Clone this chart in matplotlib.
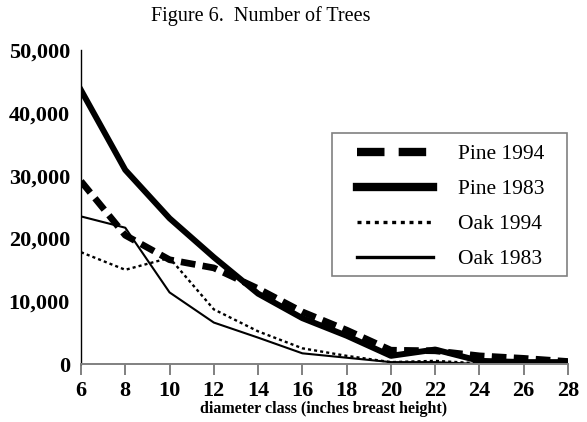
import matplotlib
matplotlib.use("Agg")
import matplotlib.pyplot as plt
from matplotlib.ticker import FuncFormatter
from matplotlib.lines import Line2D
from matplotlib.patches import Rectangle

diameter = [6, 8, 10, 12, 14, 16, 18, 20, 22, 24, 26, 28]
pine_1994 = [29100, 20500, 16600, 15300, 12000, 8300, 5400, 2200, 2100, 1300, 900, 400]
pine_1983 = [43600, 30900, 23200, 17000, 11200, 7300, 4500, 1300, 2300, 500, 300, 300]
oak_1994 = [17800, 15000, 16900, 8700, 5200, 2500, 1300, 300, 500, 100, 100, 100]
oak_1983 = [23500, 21700, 11400, 6600, 4200, 1700, 1000, 300, 300, 0, 0, 0]
series_labels = ["Pine 1994", "Pine 1983", "Oak 1994", "Oak 1983"]
y_ticks = [0, 10000, 20000, 30000, 40000, 50000]

plt.rcParams['font.family'] = ['Liberation Serif', 'DejaVu Serif']

W, H = 587, 422
fig = plt.figure(figsize=(W/100, H/100), dpi=100)
ax = fig.add_axes([81/W, 1-364/H, 487/W, 314/H])

ax.plot(diameter, pine_1994, color='black', lw=4.8, dashes=(2.2, 1.1),
        dash_capstyle='butt', solid_joinstyle='miter')
ax.plot(diameter, pine_1983, color='black', lw=4.3, solid_joinstyle='round')
ax.plot(diameter, oak_1994, color='black', lw=1.7, dashes=(1.3, 1.3))
ax.plot(diameter, oak_1983, color='black', lw=1.5)

ax.set_xlim(6, 28)
ax.set_ylim(0, 50000)
ax.set_xticks(diameter)
ax.set_yticks(y_ticks)
ax.yaxis.set_major_formatter(FuncFormatter(lambda v, p: f"{int(v):,}"))

for s in ['top', 'right']:
    ax.spines[s].set_visible(False)
ax.spines['left'].set_color('black')
ax.spines['left'].set_linewidth(1.0)
ax.spines['bottom'].set_color('#808080')
ax.spines['bottom'].set_linewidth(1.4)
ax.tick_params(axis='x', direction='out', length=8, width=1.4, color='#808080',
               pad=4, labelsize=16)
ax.tick_params(axis='y', length=0, pad=8, labelsize=16)
for t in ax.get_xticklabels() + ax.get_yticklabels():
    t.set_fontweight('bold')

fig.text(0.445, 0.962, "Figure 6.  Number of Trees", ha='center', va='center', fontsize=14.5)
fig.text(0.551, 0.013, "diameter class (inches breast height)", ha='center', va='bottom',
         fontsize=11.5, fontweight='bold')

# legend frame drawn separately
fig.patches.append(Rectangle((332/W, 1-276/H), (567-332)/W, (276-133)/H,
                             transform=fig.transFigure, fill=False,
                             edgecolor='#808080', lw=1.2, zorder=5))

h1 = Line2D([], [], color='black', lw=6, dashes=(3.3, 1.7), dash_capstyle='butt')
h2 = Line2D([], [], color='black', lw=6)
h3 = Line2D([], [], color='black', lw=2.4, dashes=(1.2, 1.4), dash_capstyle='butt')
h4 = Line2D([], [], color='black', lw=2.4)
leg = fig.legend([h1, h2, h3, h4], series_labels, loc='upper left',
                 bbox_to_anchor=(357/W, 1-144/H), bbox_transform=fig.transFigure,
                 fontsize=15.5, frameon=False,
                 handlelength=3.55, handletextpad=1.15,
                 labelspacing=0.7, borderpad=0, borderaxespad=0)

fig.savefig("out.png", dpi=100)
